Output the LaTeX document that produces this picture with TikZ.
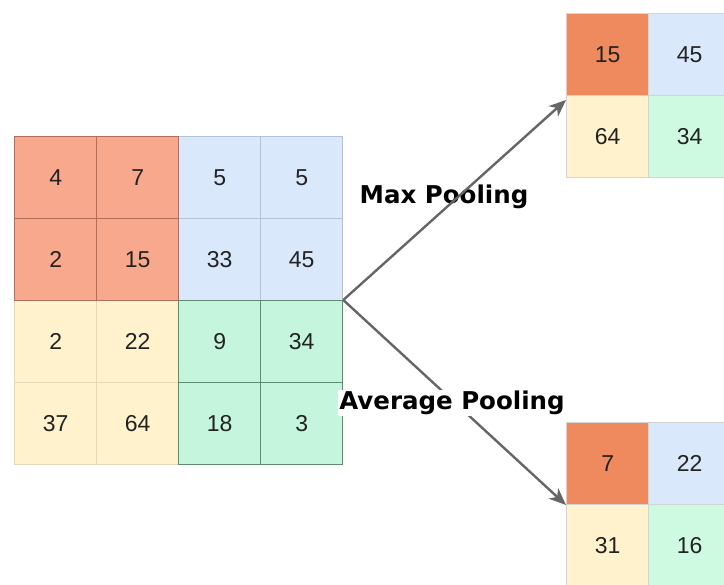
\documentclass[tikz,border=0pt]{standalone}
\usepackage{fontspec}
\setmainfont{Liberation Sans}
\newfontfamily\lblfont{DejaVu Sans}
\usetikzlibrary{arrows.meta}

\definecolor{redfill}{HTML}{F8A88D}
\definecolor{redline}{HTML}{B36E5A}
\definecolor{bluefill}{HTML}{DAE8FC}
\definecolor{blueline}{HTML}{B4C3D8}
\definecolor{yelfill}{HTML}{FFF2CC}
\definecolor{yelline}{HTML}{E4D8B6}
\definecolor{grnfill}{HTML}{C6F5DD}
\definecolor{grnline}{HTML}{5F8C70}
\definecolor{orgfill}{HTML}{EE8A5E}
\definecolor{outline}{HTML}{D4D4D4}
\definecolor{ogrnfill}{HTML}{CDFAE1}
\definecolor{numcol}{HTML}{222222}
\definecolor{arrcol}{HTML}{666666}

\tikzset{
  cell/.style={draw, line width=1.3pt, minimum size=82pt, inner sep=0pt,
    anchor=north west, font=\fontsize{23}{26}\selectfont, text=numcol},
  rc/.style={cell, fill=redfill, draw=redline},
  bc/.style={cell, fill=bluefill, draw=blueline},
  yc/.style={cell, fill=yelfill, draw=yelline},
  gc/.style={cell, fill=grnfill, draw=grnline},
  oor/.style={cell, fill=orgfill, draw=outline},
  oob/.style={cell, fill=bluefill, draw=outline},
  ooy/.style={cell, fill=yelfill, draw=outline},
  oog/.style={cell, fill=ogrnfill, draw=outline},
  pool/.style={draw=arrcol, line width=2.4pt,
    -{Stealth[length=17pt, width=14pt, inset=5pt]}},
  lbl/.style={font=\lblfont\bfseries\fontsize{24.5}{28}\selectfont, text=black, inner sep=1pt}
}

\begin{document}
\begin{tikzpicture}[x=1pt, y=-1pt]
\useasboundingbox (0,0) rectangle (724,585);
\clip (0,0) rectangle (724,585);

% input feature map, 4x4
\node[yc] (i31) at (14,300) {2};
\node[yc] (i32) at (96,300) {22};
\node[yc] (i41) at (14,382) {37};
\node[yc] (i42) at (96,382) {64};
\node[bc] (i13) at (178,136) {5};
\node[bc] (i14) at (260,136) {5};
\node[bc] (i23) at (178,218) {33};
\node[bc] (i24) at (260,218) {45};
\node[rc] (i11) at (14,136) {4};
\node[rc] (i12) at (96,136) {7};
\node[rc] (i21) at (14,218) {2};
\node[rc] (i22) at (96,218) {15};
\node[gc] (i33) at (178,300) {9};
\node[gc] (i34) at (260,300) {34};
\node[gc] (i43) at (178,382) {18};
\node[gc] (i44) at (260,382) {3};

% max pooling result
\node[oob] (m12) at (648,13) {45};
\node[ooy] (m21) at (566,95) {64};
\node[oog] (m22) at (648,95) {34};
\node[oor] (m11) at (566,13) {15};

% average pooling result
\node[oob] (a12) at (648,422) {22};
\node[ooy] (a21) at (566,504) {31};
\node[oog] (a22) at (648,504) {16};
\node[oor] (a11) at (566,422) {7};

\node[lbl] (maxl) at (444,197) {Max Pooling};

\coordinate (split) at (i34.north east);
\coordinate (maxend) at ([yshift=-5pt]m21.north west);
\coordinate (avgend) at ([yshift=-1pt]a21.north west);
\draw[pool] (split) -- (maxend);
\draw[pool] (split) -- (avgend);

\node[lbl, fill=white] (avgl) at (452,403) {Average Pooling};
\end{tikzpicture}
\end{document}
